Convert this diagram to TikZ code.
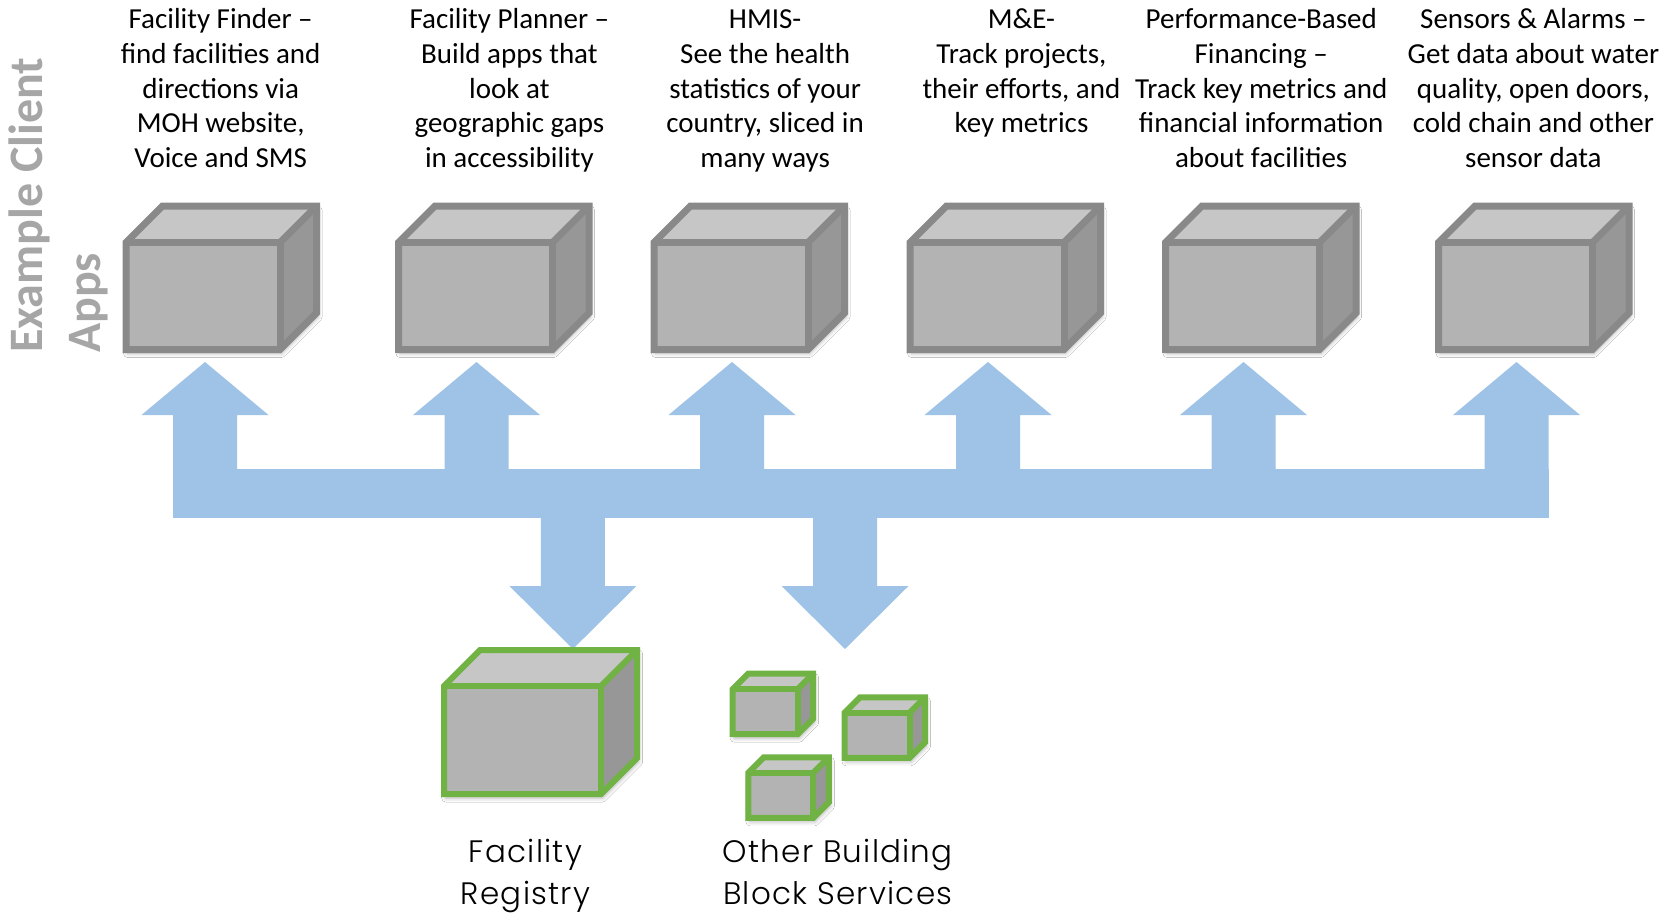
\documentclass[tikz,border=0pt]{standalone}
\usepackage{fontspec}
\setmainfont{Carlito}
\newfontfamily\botfont[LetterSpace=4]{Poppins Light}
\usetikzlibrary{calc,shadows.blur}
\definecolor{arrowblue}{HTML}{9FC3E7}
\definecolor{cubefrontc}{HTML}{B3B3B3}
\definecolor{cubetopc}{HTML}{C6C6C6}
\definecolor{cubesidec}{HTML}{979797}
\definecolor{cubegrey}{HTML}{898989}
\definecolor{cubegreen}{HTML}{70B244}
\definecolor{labelgray}{HTML}{A6A6A6}
\tikzset{
  cubefront/.style={rectangle, fill=cubefrontc, inner sep=0pt, outer sep=0pt},
  cubeedge/.style={line width=#1, line join=miter},
  cubeinner/.style={line width=#1, line cap=butt},
  cubeshadow/.style={blur shadow={shadow xshift=1.5pt, shadow yshift=-4pt, shadow blur radius=4pt, shadow opacity=30}},
  hdr/.style={anchor=base, inner sep=0pt, font=\fontsize{29}{34.6}\selectfont, text=black},
  botlab/.style={anchor=base, inner sep=0pt, font=\botfont\fontsize{31}{42.5}\selectfont, text=black},
  sidelab/.style={anchor=base west, rotate=90, inner sep=0pt, font=\bfseries\fontsize{48}{58.3}\selectfont, text=labelgray},
  blockarrow/.style={fill=arrowblue}
}
% #1 name, #2 cx, #3 cy, #4 w, #5 h, #6 depth, #7 border colour, #8 line width
\newcommand\mycube[8]{%
  \path[cubeshadow] ({#2-#4/2},{#3+#5/2}) -- ({#2-#4/2},{#3-#5/2}) -- ({#2-#4/2+#6},{#3-#5/2-#6}) -- ({#2+#4/2+#6},{#3-#5/2-#6}) -- ({#2+#4/2+#6},{#3+#5/2-#6}) -- ({#2+#4/2},{#3+#5/2}) -- cycle;
  \node[cubefront, minimum width=#4pt, minimum height=#5pt] (#1) at (#2,#3) {};
  \fill[cubetopc] (#1.north west) -- ++(#6,-#6) -- ($(#1.north east)+(#6,-#6)$) -- (#1.north east) -- cycle;
  \fill[cubesidec] (#1.north east) -- ++(#6,-#6) -- ($(#1.south east)+(#6,-#6)$) -- (#1.south east) -- cycle;
  \draw[cubeinner=#8, draw=#7] (#1.north west) -- (#1.north east) -- (#1.south east);
  \draw[cubeinner=#8, draw=#7] (#1.north east) -- ++(#6,-#6);
  \draw[cubeedge=#8, draw=#7] (#1.south west) -- (#1.north west) -- ++(#6,-#6) -- ($(#1.north east)+(#6,-#6)$) -- ($(#1.south east)+(#6,-#6)$) -- (#1.south east) -- cycle;
}
\newcommand\uparr[2]{%
  \coordinate (#1) at (#2,362);
  \fill[blockarrow] ({#2-32},469.5) -- ({#2-32},415) -- ({#2-63.5},415) -- (#1) -- ({#2+63.5},415) -- ({#2+32},415) -- ({#2+32},469.5) -- cycle;
}
\newcommand\downarr[2]{%
  \coordinate (#1) at (#2,649);
  \fill[blockarrow] ({#2-32},517.5) -- ({#2-32},586) -- ({#2-63.5},586) -- (#1) -- ({#2+63.5},586) -- ({#2+32},586) -- ({#2+32},517.5) -- cycle;
}
\newcommand\hdrtext[1]{\begin{tabular}[t]{@{}c@{}}#1\end{tabular}}
\begin{document}
\begin{tikzpicture}[x=1pt,y=-1pt]
\useasboundingbox (0,0) rectangle (1664,915);
\fill[white] (0,0) rectangle (1664,915);

% side label
\node[sidelab] (side) at (42.5,353) {\begin{tabular}[t]{@{}l@{}}Example Client\\Apps\end{tabular}};

% headers
\node[hdr] (t1) at (220.7,29) {\hdrtext{Facility Finder –\\find facilities and\\directions via\\MOH website,\\Voice and SMS}};
\node[hdr] (t2) at (509.4,29) {\hdrtext{Facility Planner –\\Build apps that\\look at\\geographic gaps\\in accessibility}};
\node[hdr] (t3) at (765.1,29) {\hdrtext{HMIS-\\See the health\\statistics of your\\country, sliced in\\many ways}};
\node[hdr] (t4) at (1021.4,29) {\hdrtext{M\&E-\\Track projects,\\their efforts, and\\key metrics}};
\node[hdr] (t5) at (1261.2,29) {\hdrtext{Performance-Based\\Financing –\\Track key metrics and\\financial information\\about facilities}};
\node[hdr] (t6) at (1533.4,29) {\hdrtext{Sensors \& Alarms –\\Get data about water\\quality, open doors,\\cold chain and other\\sensor data}};

% client app cubes
\mycube{c1}{203}{296}{154}{107}{36.5}{cubegrey}{7pt}
\mycube{c2}{475.5}{296}{154}{107}{36.5}{cubegrey}{7pt}
\mycube{c3}{731}{296}{154}{107}{36.5}{cubegrey}{7pt}
\mycube{c4}{987}{296}{154}{107}{36.5}{cubegrey}{7pt}
\mycube{c5}{1242.5}{296}{154}{107}{36.5}{cubegrey}{7pt}
\mycube{c6}{1515.5}{296}{154}{107}{36.5}{cubegrey}{7pt}

% arrows
\fill[blockarrow] (173,469) rectangle (1548.5,518);
\uparr{a1}{205}
\uparr{a2}{476.5}
\uparr{a3}{732}
\uparr{a4}{988}
\uparr{a5}{1243.5}
\uparr{a6}{1516.5}
\downarr{d1}{572.9}
\downarr{d2}{845}

% back-end cubes
\mycube{fr}{522.7}{740}{157}{108}{36}{cubegreen}{6pt}
\mycube{s1}{765.2}{711.7}{65}{45}{15.5}{cubegreen}{6pt}
\mycube{s2}{877}{735.3}{65}{45}{15.5}{cubegreen}{6pt}
\mycube{s3}{780.9}{795.3}{65}{45}{15.5}{cubegreen}{6pt}

% bottom labels
\node[botlab] (frl) at (525.5,862) {\begin{tabular}[t]{@{}c@{}}Facility\\Registry\end{tabular}};
\node[botlab] (obl) at (837.8,862) {\begin{tabular}[t]{@{}c@{}}Other Building\\Block Services\end{tabular}};
\end{tikzpicture}
\end{document}
